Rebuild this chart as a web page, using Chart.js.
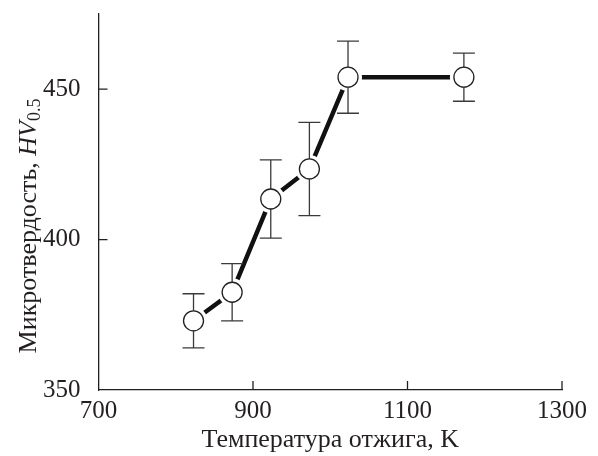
<!DOCTYPE html>
<html>
<head>
<meta charset="utf-8">
<script src="https://cdn.jsdelivr.net/npm/chart.js@4.4.0/dist/chart.umd.min.js"></script>
<style>
  html, body { margin: 0; padding: 0; background: #fff; }
  #wrap { width: 598px; height: 456px; }
</style>
</head>
<body>
<div id="wrap"><canvas id="chart" width="598" height="456"></canvas></div>
<script>
// annealing temperature, K
const temps = [823, 873, 923, 973, 1023, 1173];
// microhardness HV0.5
const hardness = [373, 382.5, 413.5, 423.5, 454, 454];
// half-length of error bars
const errors = [9, 9.5, 13, 15.5, 12, 8];

const xTicks = [700, 900, 1100, 1300];
const yTicks = [350, 400, 450];

const FONT = '"Liberation Serif", "DejaVu Serif", serif';
const ink = '#231f20';

const points = temps.map((t, i) => ({ x: t, y: hardness[i] }));

// error bars + inward tick marks, drawn through the scales
const extras = {
    id: 'extras',
    afterDatasetDraw(chart, args) {
        if (args.index !== 1) return;
        const ctx = chart.ctx;
        const xs = chart.scales.x, ys = chart.scales.y;
        ctx.save();
        ctx.strokeStyle = '#3a3a3a';
        ctx.lineWidth = 1.3;
        temps.forEach((t, i) => {
            const px = xs.getPixelForValue(t);
            const top = ys.getPixelForValue(hardness[i] + errors[i]);
            const bot = ys.getPixelForValue(hardness[i] - errors[i]);
            ctx.beginPath();
            ctx.moveTo(px, top); ctx.lineTo(px, bot);
            ctx.moveTo(px - 11, top); ctx.lineTo(px + 11, top);
            ctx.moveTo(px - 11, bot); ctx.lineTo(px + 11, bot);
            ctx.stroke();
        });
        ctx.restore();
    },
    afterDraw(chart) {
        const ctx = chart.ctx;
        const xs = chart.scales.x, ys = chart.scales.y;
        const area = chart.chartArea;
        ctx.save();
        ctx.strokeStyle = ink;
        ctx.lineWidth = 1.3;
        ctx.beginPath();
        xTicks.slice(1).forEach(v => {
            const px = xs.getPixelForValue(v);
            ctx.moveTo(px, area.bottom); ctx.lineTo(px, area.bottom - 9);
        });
        yTicks.slice(1).forEach(v => {
            const py = ys.getPixelForValue(v);
            ctx.moveTo(area.left, py); ctx.lineTo(area.left + 9, py);
        });
        ctx.stroke();

        // y-axis title with italic HV and subscript 0.5
        ctx.fillStyle = ink;
        ctx.translate(29, 226);
        ctx.rotate(-Math.PI / 2);
        ctx.textBaseline = 'middle';
        const parts = [
            { t: 'Микротвердость, ', f: '26px ' + FONT, dy: 0 },
            { t: 'HV', f: 'italic 26px ' + FONT, dy: 0 },
            { t: '0.5', f: '18px ' + FONT, dy: 6 }
        ];
        let total = 0;
        parts.forEach(p => { ctx.font = p.f; p.w = ctx.measureText(p.t).width; total += p.w; });
        let cx = -total / 2;
        parts.forEach(p => {
            ctx.font = p.f;
            ctx.fillText(p.t, cx, p.dy);
            cx += p.w;
        });
        ctx.restore();
    }
};

new Chart(document.getElementById('chart'), {
    type: 'scatter',
    data: {
        datasets: [
            {
                // markers
                data: points,
                order: 0,
                pointRadius: 10,
                pointHoverRadius: 10,
                pointBackgroundColor: '#fff',
                pointBorderColor: ink,
                pointBorderWidth: 1.3,
                showLine: false
            },
            {
                // white halo that leaves a gap between line and markers
                data: points,
                order: 1,
                pointRadius: 14,
                pointHoverRadius: 14,
                pointBackgroundColor: '#fff',
                pointBorderColor: '#fff',
                pointBorderWidth: 0,
                showLine: false
            },
            {
                // connecting line
                data: points,
                order: 2,
                showLine: true,
                borderColor: '#111',
                borderWidth: 4.5,
                pointRadius: 0,
                pointHoverRadius: 0
            }
        ]
    },
    options: {
        responsive: false,
        animation: false,
        events: [],
        layout: { padding: { left: 0, right: 36, top: 12, bottom: 0 } },
        plugins: { legend: { display: false }, tooltip: { enabled: false } },
        scales: {
            x: {
                type: 'linear',
                min: 700,
                max: 1300,
                afterBuildTicks: s => { s.ticks = xTicks.map(v => ({ value: v })); },
                afterFit: s => { s.height = 66; },
                grid: { display: false },
                border: { display: true, color: ink, width: 1.3 },
                ticks: {
                    color: ink, font: { family: FONT, size: 25 }, padding: -2, maxRotation: 0,
                    callback: v => String(v)
                },
                title: {
                    display: true,
                    text: 'Температура отжига, K',
                    color: ink,
                    font: { family: FONT, size: 26 },
                    padding: { top: -6, bottom: 0 }
                }
            },
            y: {
                type: 'linear',
                min: 350,
                max: 475,
                afterBuildTicks: s => { s.ticks = yTicks.map(v => ({ value: v })); },
                afterFit: s => { s.width = 98.5; s.paddingTop = 0; s.paddingBottom = 0; },
                grid: { display: false },
                border: { display: true, color: ink, width: 1.3 },
                ticks: {
                    color: ink, font: { family: FONT, size: 25 }, padding: 10,
                    callback: v => String(v)
                }
            }
        }
    },
    plugins: [extras]
});
</script>
</body>
</html>
